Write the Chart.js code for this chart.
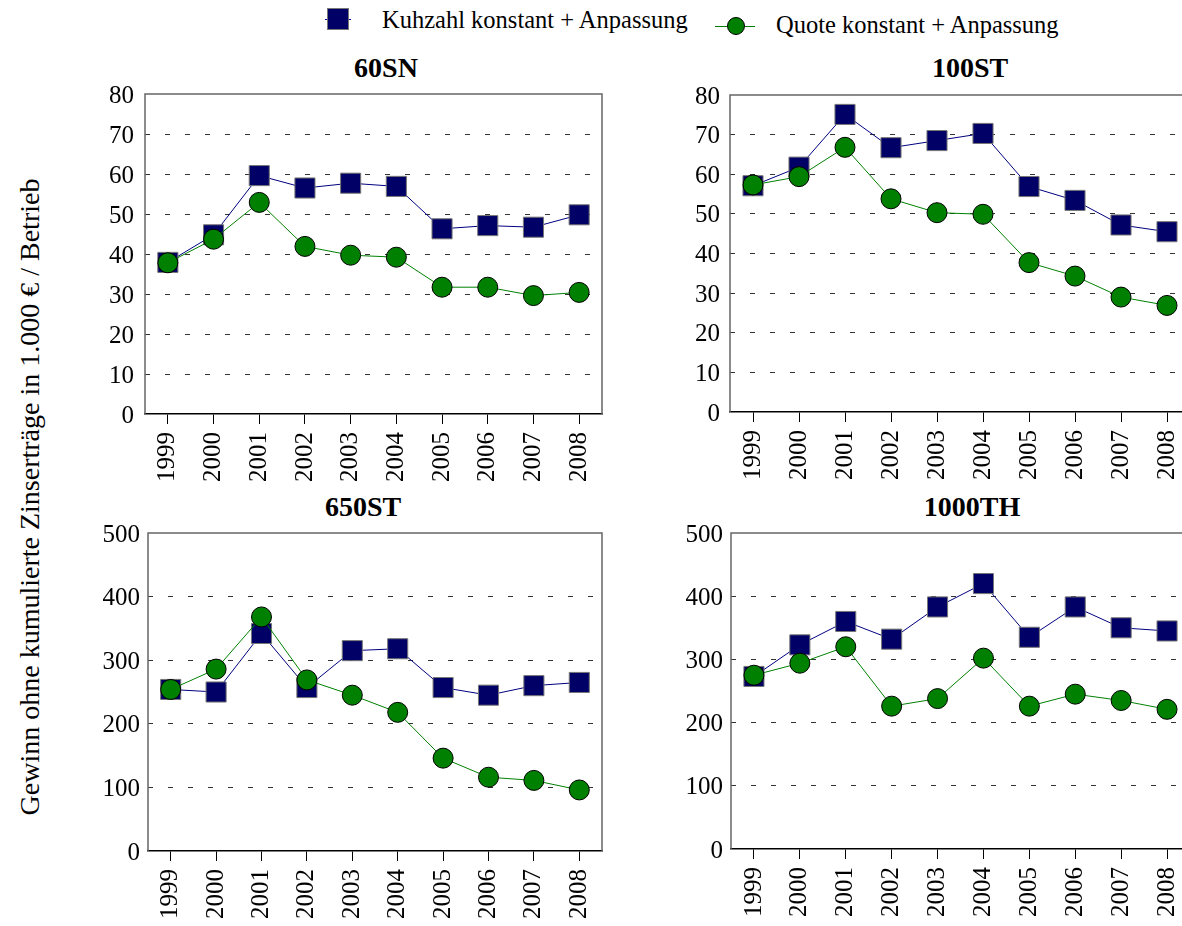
<!DOCTYPE html>
<html>
<head>
<meta charset="utf-8">
<script src="https://cdn.jsdelivr.net/npm/chart.js@4.4.1/dist/chart.umd.min.js"></script>
<style>
  html, body { margin: 0; padding: 0; background: #fff; width: 1182px; height: 926px; overflow: hidden; }
  body { position: relative; font-family: "Liberation Serif", "Times New Roman", serif; color: #000; }
  canvas { position: absolute; }
  .ttl { position: absolute; font-weight: bold; font-size: 28px; line-height: 32px; white-space: nowrap; transform: translate(-50%, -50%); }
  .lgtxt { position: absolute; font-size: 24.5px; line-height: 28px; white-space: nowrap; transform: translateY(-50%); }
  .ytitle { position: absolute; font-size: 28px; line-height: 32px; white-space: nowrap; transform: translate(-50%, -50%) rotate(-90deg); }
  .lgline { position: absolute; height: 1px; }
  .lgsq { position: absolute; width: 20px; height: 20px; background: #000066; box-shadow: 0 0 0 1px #777; }
  .lgci { position: absolute; width: 16px; height: 16px; border-radius: 50%; background: #008000; border: 1px solid #000; }
</style>
</head>
<body>
<div class="lgline" style="left:325px;top:19px;width:26px;background:#000080;"></div>
<div class="lgsq" style="left:328px;top:9px;"></div>
<div class="lgtxt" style="left:382px;top:20px;">Kuhzahl konstant + Anpassung</div>
<div class="lgline" style="left:715px;top:26px;width:40px;background:#008000;"></div>
<div class="lgci" style="left:727px;top:17px;"></div>
<div class="lgtxt" style="left:776px;top:25px;">Quote konstant + Anpassung</div>

<div class="ytitle" style="left:30px;top:497px;">Gewinn ohne kumulierte Zinserträge in 1.000 € / Betrieb</div>

<div class="ttl" style="left:386px;top:68px;">60SN</div>
<div class="ttl" style="left:970px;top:68px;">100ST</div>
<div class="ttl" style="left:363px;top:507px;">650ST</div>
<div class="ttl" style="left:972px;top:507px;">1000TH</div>

<canvas id="c1"></canvas>
<canvas id="c2"></canvas>
<canvas id="c3"></canvas>
<canvas id="c4"></canvas>

<script>
// ---- data ----
const years = ['1999', '2000', '2001', '2002', '2003', '2004', '2005', '2006', '2007', '2008'];
const seriesNames = ['Kuhzahl konstant + Anpassung', 'Quote konstant + Anpassung'];
const panelTitles = ['60SN', '100ST', '650ST', '1000TH'];

const sn60Kuhzahl = [37.9, 44.8, 59.6, 56.5, 57.7, 56.9, 46.3, 47.1, 46.7, 49.8];
const sn60Quote   = [37.8, 43.7, 52.9, 41.9, 39.7, 39.2, 31.7, 31.7, 29.6, 30.4];

const st100Kuhzahl = [57.1, 61.8, 75.1, 66.7, 68.5, 70.3, 56.9, 53.4, 47.2, 45.5];
const st100Quote   = [57.3, 59.4, 66.8, 53.8, 50.3, 49.9, 37.7, 34.3, 29.0, 26.9];

const st650Kuhzahl = [254, 250, 342, 257, 315, 318, 257, 245, 260, 265];
const st650Quote   = [254, 286, 368, 269, 245, 218, 146, 116, 111, 96];

const th1000Kuhzahl = [273, 323, 360, 332, 383, 420, 335, 383, 350, 345];
const th1000Quote   = [275, 294, 320, 226, 238, 302, 226, 245, 235, 221];

const yMax60 = 80, yStep60 = 10;
const yMax500 = 500, yStep500 = 100;

// ---- layout ----
const YW = 70, PT = 18, PR = 20, XH = 84;
const FONT = '"Liberation Serif", serif';

const framePlugin = {
  id: 'frame',
  beforeDatasetsDraw(chart) {
    const a = chart.chartArea, ctx = chart.ctx;
    ctx.save();
    ctx.strokeStyle = '#666';
    ctx.lineWidth = 1.5;
    ctx.beginPath();
    ctx.moveTo(a.left, a.bottom);
    ctx.lineTo(a.left, a.top);
    ctx.lineTo(a.right, a.top);
    ctx.lineTo(a.right, a.bottom);
    ctx.stroke();
    ctx.restore();
  }
};

function makePanel(id, box, kuh, quote, yMax, yStep, tickPad) {
  const cv = document.getElementById(id);
  const w = YW + (box.right - box.left) + PR;
  const h = PT + (box.bottom - box.top) + XH;
  cv.width = w; cv.height = h;
  cv.style.left = (box.left - YW) + 'px';
  cv.style.top = (box.top - PT) + 'px';
  cv.style.width = w + 'px';
  cv.style.height = h + 'px';

  new Chart(cv, {
    type: 'line',
    data: {
      labels: years,
      datasets: [
        {
          label: seriesNames[0],
          data: kuh,
          order: 1,
          borderColor: '#000080',
          borderWidth: 1,
          backgroundColor: '#000066',
          pointStyle: 'rect',
          pointRadius: 14.2,
          pointBackgroundColor: '#000066',
          pointBorderColor: '#777',
          pointBorderWidth: 1,
          tension: 0,
          clip: false
        },
        {
          label: seriesNames[1],
          data: quote,
          order: 0,
          borderColor: '#008000',
          borderWidth: 1,
          backgroundColor: '#008000',
          pointStyle: 'circle',
          pointRadius: 10,
          pointBackgroundColor: '#008000',
          pointBorderColor: '#000',
          pointBorderWidth: 1,
          tension: 0,
          clip: false
        }
      ]
    },
    options: {
      responsive: false,
      animation: false,
      devicePixelRatio: 1,
      events: [],
      layout: { padding: { left: 0, top: PT, right: PR, bottom: 0 } },
      plugins: { legend: { display: false }, tooltip: { enabled: false }, title: { display: false } },
      scales: {
        x: {
          type: 'category',
          offset: true,
          afterFit: s => { s.height = XH; s.paddingLeft = 0; s.paddingRight = 0; },
          grid: {
            offset: false,
            drawOnChartArea: false,
            drawTicks: true,
            tickLength: 10,
            tickColor: '#000',
            tickWidth: 1
          },
          border: { display: true, color: '#000', width: 1.5 },
          ticks: {
            minRotation: 90,
            maxRotation: 90,
            autoSkip: false,
            padding: 8,
            color: '#000',
            font: { family: FONT, size: 25 }
          }
        },
        y: {
          min: 0,
          max: yMax,
          afterFit: s => { s.width = YW; s.paddingTop = 0; s.paddingBottom = 0; },
          grid: {
            drawTicks: false,
            lineWidth: 1,
            color: c => (c.tick && (c.tick.value === 0 || c.tick.value === yMax)) ? 'rgba(0,0,0,0)' : '#333'
          },
          border: { display: false, dash: [5, 15] },
          ticks: {
            stepSize: yStep,
            padding: tickPad,
            labelOffset: 2,
            color: '#000',
            font: { family: FONT, size: 25 }
          }
        }
      }
    },
    plugins: [framePlugin]
  });
}

function drawAll() {
  Chart.defaults.font.family = FONT;
  makePanel('c1', { left: 145, right: 602, top: 94, bottom: 414 }, sn60Kuhzahl, sn60Quote, yMax60, yStep60, 11);
  makePanel('c2', { left: 730, right: 1190, top: 95, bottom: 412 }, st100Kuhzahl, st100Quote, yMax60, yStep60, 10);
  makePanel('c3', { left: 148, right: 602, top: 533, bottom: 851 }, st650Kuhzahl, st650Quote, yMax500, yStep500, 8);
  makePanel('c4', { left: 731, right: 1190, top: 533, bottom: 849 }, th1000Kuhzahl, th1000Quote, yMax500, yStep500, 8);
}

let drawn = false;
function once() { if (!drawn) { drawn = true; drawAll(); } }
try {
  Promise.all([
    document.fonts.load('25px "Liberation Serif"'),
    document.fonts.load('bold 28px "Liberation Serif"')
  ]).then(once, once);
  setTimeout(once, 1500);
} catch (e) {
  once();
}
</script>
</body>
</html>
